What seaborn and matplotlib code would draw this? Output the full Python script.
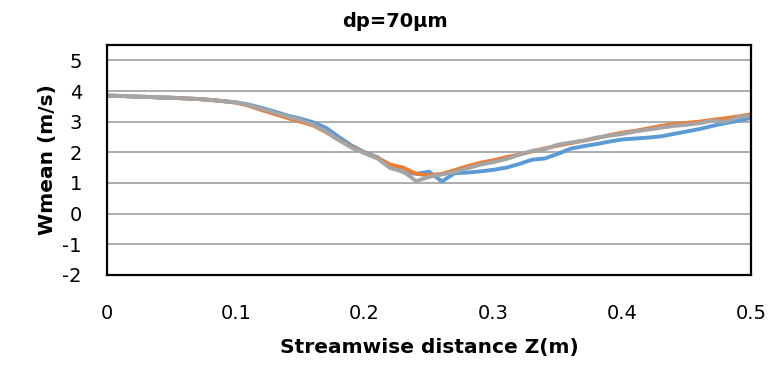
import pandas as pd
import matplotlib.pyplot as plt
import seaborn as sns

# streamwise positions (m)
z = [0.00, 0.01, 0.02, 0.03, 0.04, 0.05, 0.06, 0.07, 0.08, 0.09,
     0.10, 0.11, 0.12, 0.13, 0.14, 0.15, 0.16, 0.17, 0.18, 0.19,
     0.20, 0.21, 0.22, 0.23, 0.24, 0.25, 0.26, 0.27, 0.28, 0.29,
     0.30, 0.31, 0.32, 0.33, 0.34, 0.35, 0.36, 0.37, 0.38, 0.39,
     0.40, 0.41, 0.42, 0.43, 0.44, 0.45, 0.46, 0.47, 0.48, 0.49, 0.50]

# mean velocity (m/s) of the three runs
w_blue = [3.85, 3.84, 3.82, 3.81, 3.79, 3.78, 3.76, 3.74, 3.71, 3.67,
          3.63, 3.56, 3.45, 3.33, 3.20, 3.10, 2.98, 2.80, 2.50, 2.22,
          2.00, 1.84, 1.55, 1.35, 1.30, 1.37, 1.05, 1.32, 1.34, 1.38,
          1.43, 1.50, 1.62, 1.76, 1.80, 1.95, 2.12, 2.20, 2.27, 2.35,
          2.42, 2.45, 2.48, 2.52, 2.60, 2.68, 2.76, 2.86, 2.95, 3.03, 3.12]
w_orange = [3.85, 3.84, 3.82, 3.81, 3.79, 3.78, 3.76, 3.74, 3.71, 3.67,
            3.62, 3.52, 3.38, 3.25, 3.12, 3.00, 2.88, 2.66, 2.40, 2.18,
            1.98, 1.82, 1.60, 1.50, 1.30, 1.25, 1.30, 1.42, 1.55, 1.66,
            1.74, 1.84, 1.93, 2.03, 2.13, 2.22, 2.30, 2.38, 2.46, 2.56,
            2.64, 2.70, 2.78, 2.86, 2.92, 2.96, 3.00, 3.06, 3.11, 3.17, 3.24]
w_gray = [3.85, 3.84, 3.82, 3.81, 3.79, 3.78, 3.76, 3.74, 3.71, 3.67,
          3.63, 3.54, 3.42, 3.29, 3.17, 3.05, 2.91, 2.68, 2.40, 2.15,
          1.97, 1.80, 1.48, 1.38, 1.06, 1.20, 1.28, 1.36, 1.48, 1.60,
          1.68, 1.78, 1.92, 2.05, 2.10, 2.25, 2.32, 2.38, 2.48, 2.54,
          2.60, 2.68, 2.74, 2.80, 2.86, 2.90, 2.95, 3.03, 3.00, 3.14, 3.20]

df = pd.concat([
    pd.DataFrame({'z': z, 'w': w_blue, 'run': 'A'}),
    pd.DataFrame({'z': z, 'w': w_orange, 'run': 'B'}),
    pd.DataFrame({'z': z, 'w': w_gray, 'run': 'C'}),
])

sns.set_style('white')
plt.rcParams['font.family'] = ['DejaVu Sans']
plt.rcParams['axes.unicode_minus'] = False
plt.rcParams['text.color'] = 'black'
plt.rcParams['axes.labelcolor'] = 'black'
plt.rcParams['xtick.color'] = 'black'
plt.rcParams['ytick.color'] = 'black'

fig = plt.figure(figsize=(7.72, 3.65), dpi=100)
ax = fig.add_axes([0.1386, 0.2466, 0.8342, 0.6301])

sns.lineplot(data=df, x='z', y='w', hue='run',
             palette=['#5b9bd5', '#ed7d31', '#a5a5a5'],
             linewidth=2.8, legend=False, ax=ax)

ax.set_xlim(0, 0.5)
ax.set_ylim(-2, 5.5)
ax.set_xticks([0, 0.1, 0.2, 0.3, 0.4, 0.5])
ax.set_xticklabels(['0', '0.1', '0.2', '0.3', '0.4', '0.5'])
ax.set_yticks(range(-2, 6))
ax.yaxis.grid(True, color='#a6a6a6', linewidth=1.3)
ax.set_axisbelow(True)
for s in ax.spines.values():
    s.set_color('black')
    s.set_linewidth(1.6)
ax.tick_params(axis='x', length=0, pad=21, labelsize=14)
ax.tick_params(axis='y', length=0, pad=18, labelsize=14)

ax.set_xlabel('Streamwise distance Z(m)', fontsize=14.5, fontweight='bold', labelpad=11)
ax.set_ylabel('Wmean (m/s)', fontsize=14.5, fontweight='bold', labelpad=4)
fig.text(0.512, 0.942, 'dp=70µm', ha='center', va='center', fontsize=14, fontweight='bold')

plt.savefig('out.png', dpi=100)
